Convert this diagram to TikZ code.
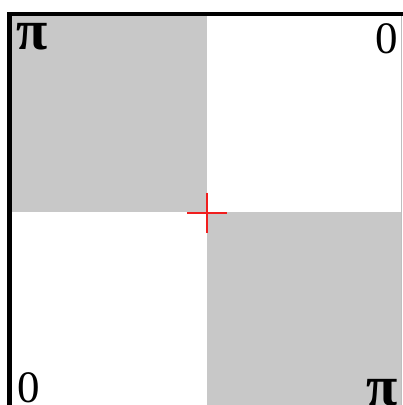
\documentclass[tikz,border=0pt]{standalone}
\usepackage{fontspec}
\setmainfont{Liberation Serif}
\usepackage{xcolor}
\definecolor{CellGray}{HTML}{C8C8C8}
\definecolor{EdgeGray}{HTML}{BEBEBE}
\definecolor{MarkRed}{HTML}{F01E1E}

\begin{document}
\begin{tikzpicture}[x=1pt, y=-1pt,
  cell/.style={fill=CellGray, draw=none},
  phase/.style={inner sep=0pt, font=\fontsize{45}{45}\selectfont},
  pilabel/.style={inner sep=0pt, font=\fontsize{57}{57}\selectfont\bfseries},
  frame/.style={line width=4.2pt, black},
  cross/.style={line width=2pt, MarkRed}
]
  \useasboundingbox (0,0) rectangle (403,405);

  %% Shaded quadrants
  \fill[cell] (11.5,16) rectangle (207,212);
  \fill[cell] (207,212) rectangle (401,405);

  %% Frame edges
  \draw[EdgeGray, line width=1pt] (401,16) -- (401,405);
  \draw[frame] (9.5,12.3) -- (9.5,405);
  \draw[frame] (7.4,14.3) -- (403,14.3);

  %% Phase labels at the corners
  \node[pilabel, anchor=north west] (pitl) at (16,23)  {π};
  \node[phase, anchor=north east] (zetr) at (398,23) {0};
  \node[phase, anchor=north west] (zebl) at (17,372) {0};
  \node[pilabel, anchor=north east] (pibr) at (398,379) {π};

  %% Centre mark
  \coordinate (ctr) at (207,212.5);
  \draw[cross] ([xshift=-20pt]ctr) -- ([xshift=20pt]ctr);
  \draw[cross] ([yshift=20pt]ctr) -- ([yshift=-20pt]ctr);
\end{tikzpicture}
\end{document}
